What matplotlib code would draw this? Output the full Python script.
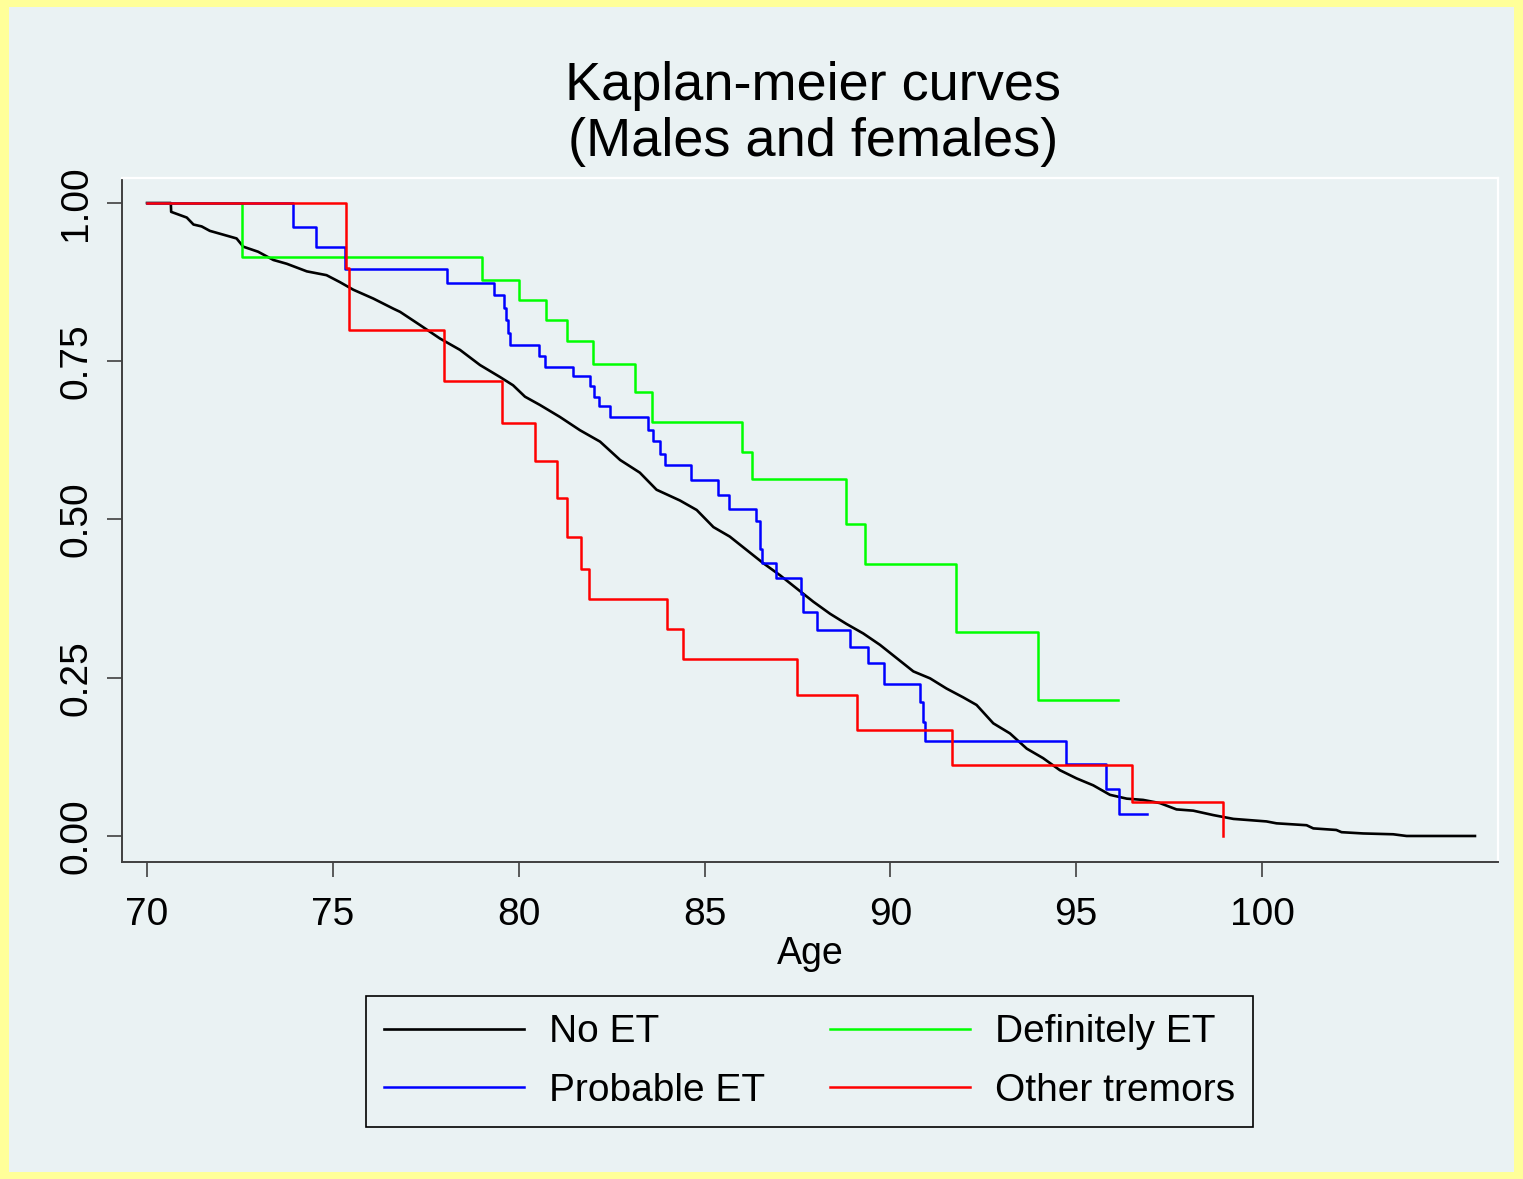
import matplotlib
matplotlib.use("Agg")
import matplotlib.pyplot as plt
from matplotlib.patches import Rectangle

plt.rcParams['font.family'] = ['Liberation Sans', 'DejaVu Sans']

# Kaplan-Meier survival by tremor group (age in years, survival proportion)
no_et_age = [70, 70.64, 70.65, 71.07, 71.25, 71.47, 71.69, 72.05, 72.41, 72.59, 72.99,
             73.40, 73.76, 74.30, 74.83, 75.19, 75.55, 76.09, 76.63, 76.81, 77.35,
             77.88, 78.42, 78.96, 79.50, 79.85, 80.17, 80.57, 81.11, 81.65, 82.19,
             82.73, 83.26, 83.71, 84.34, 84.79, 85.24, 85.68, 86.13, 86.58, 87.03,
             87.48, 87.93, 88.38, 88.82, 89.27, 89.72, 90.17, 90.62, 91.07, 91.51,
             91.96, 92.32, 92.77, 93.22, 93.67, 94.11, 94.56, 95.01, 95.46, 95.91,
             96.36, 96.80, 97.25, 97.70, 98.15, 98.69, 99.23, 100.12, 100.39, 101.20,
             101.38, 102.00, 102.14, 102.72, 103.53, 103.89, 105.73]
no_et_surv = [1.0, 1.0, 0.986, 0.977, 0.966, 0.963, 0.956, 0.950, 0.944, 0.931, 0.923,
              0.910, 0.904, 0.892, 0.886, 0.875, 0.863, 0.849, 0.833, 0.828, 0.807,
              0.786, 0.768, 0.744, 0.725, 0.712, 0.694, 0.681, 0.662, 0.641, 0.623,
              0.594, 0.574, 0.547, 0.530, 0.515, 0.488, 0.473, 0.452, 0.431, 0.412,
              0.391, 0.370, 0.351, 0.335, 0.320, 0.302, 0.281, 0.260, 0.249, 0.233,
              0.219, 0.207, 0.178, 0.162, 0.138, 0.123, 0.104, 0.091, 0.080, 0.065,
              0.059, 0.057, 0.052, 0.042, 0.040, 0.033, 0.027, 0.023, 0.020, 0.017,
              0.012, 0.0095, 0.006, 0.004, 0.0027, 0.0, 0.0]

definite_age = [70, 72.55, 79.0, 80.0, 80.73, 81.3, 81.99, 83.12, 83.6, 86.0,
                86.27, 88.82, 89.32, 91.78, 93.96, 96.13]
definite_surv = [1.0, 0.915, 0.878, 0.847, 0.815, 0.782, 0.745, 0.701, 0.654, 0.607,
                 0.564, 0.493, 0.430, 0.323, 0.215, 0.215]

probable_age = [70, 73.92, 74.55, 75.33, 78.08, 79.33, 79.6, 79.65, 79.71, 79.77,
                80.55, 80.7, 81.45, 81.92, 82.03, 82.17, 82.46, 83.47, 83.61, 83.8,
                83.94, 84.64, 85.37, 85.66, 86.38, 86.5, 86.54, 86.92, 87.59, 87.64,
                88.03, 88.92, 89.39, 89.82, 90.79, 90.88, 90.92, 94.73, 95.8, 96.14,
                96.9]
probable_surv = [1.0, 0.962, 0.930, 0.896, 0.874, 0.855, 0.834, 0.815, 0.795, 0.776,
                 0.758, 0.741, 0.727, 0.711, 0.694, 0.679, 0.662, 0.642, 0.624, 0.603,
                 0.586, 0.562, 0.539, 0.516, 0.497, 0.453, 0.431, 0.408, 0.382, 0.354,
                 0.326, 0.298, 0.273, 0.240, 0.211, 0.180, 0.150, 0.113, 0.074, 0.035,
                 0.035]

other_age = [70, 75.35, 75.44, 78.0, 79.56, 80.44, 81.02, 81.31, 81.68, 81.89,
             83.98, 84.43, 87.48, 89.1, 91.65, 96.5, 98.96]
other_surv = [1.0, 0.898, 0.799, 0.719, 0.653, 0.592, 0.534, 0.473, 0.421, 0.374,
              0.327, 0.280, 0.223, 0.167, 0.112, 0.054, 0.0]

x_ticks = [70, 75, 80, 85, 90, 95, 100]
y_ticks = [0.0, 0.25, 0.5, 0.75, 1.0]
y_tick_labels = ['0.00', '0.25', '0.50', '0.75', '1.00']

W, H = 1523, 1179
bg = '#EAF2F3'
axis_grey = '#404040'

fig = plt.figure(figsize=(W / 100, H / 100), dpi=100, facecolor='#FFFF99')
fig.patches.append(Rectangle((9 / W, 7 / H), (1514 - 9) / W, (1172 - 7) / H,
                             transform=fig.transFigure, facecolor=bg,
                             edgecolor='none', zorder=-10))

ax = fig.add_axes([122 / W, 1 - 862 / H, (1498 - 122) / W, (862 - 178) / H])
ax.set_facecolor(bg)

l_no, = ax.plot(no_et_age, no_et_surv, color='black', lw=1.9, zorder=2)
l_def, = ax.plot(definite_age, definite_surv, color='#00FF00', lw=1.8,
                 drawstyle='steps-post', zorder=3)
l_prob, = ax.plot(probable_age, probable_surv, color='#0000FF', lw=1.8,
                  drawstyle='steps-post', zorder=4)
l_oth, = ax.plot(other_age, other_surv, color='#FF0000', lw=1.8,
                 drawstyle='steps-post', zorder=5)

ax.set_xlim(69.327, 106.35)
ax.set_ylim(-0.0411, 1.0395)
ax.set_xticks(x_ticks)
ax.set_yticks(y_ticks)
ax.set_yticklabels(y_tick_labels, rotation=90, va='center')
ax.tick_params(axis='both', direction='out', length=11, width=1.2,
               color=axis_grey, labelsize=28)
ax.tick_params(axis='y', pad=9)
ax.tick_params(axis='x', pad=14)

for side in ['left', 'bottom']:
    ax.spines[side].set_color(axis_grey)
    ax.spines[side].set_linewidth(1.4)
for side in ['top', 'right']:
    ax.spines[side].set_color('white')
    ax.spines[side].set_linewidth(1.6)

ax.set_xlabel('Age', fontsize=27, labelpad=2)

fig.text(813 / W, 1 - 114 / H, 'Kaplan-meier curves\n(Males and females)',
         ha='center', va='center', fontsize=39, linespacing=1.15)

leg = ax.legend(handles=[l_no, l_prob, l_def, l_oth],
                labels=['No ET', 'Probable ET', 'Definitely ET', 'Other tremors'],
                ncol=2, loc='upper center',
                bbox_to_anchor=(809.5 / W, 1 - 996 / H),
                bbox_transform=fig.transFigure, borderaxespad=0, fontsize=28,
                frameon=True, fancybox=False, edgecolor='black',
                facecolor=bg, framealpha=1, handlelength=3.6,
                handletextpad=0.65, columnspacing=1.65, borderpad=0.47,
                labelspacing=0.58)
leg.get_frame().set_linewidth(1.2)

fig.savefig('out.png', dpi=100, facecolor=fig.get_facecolor())
